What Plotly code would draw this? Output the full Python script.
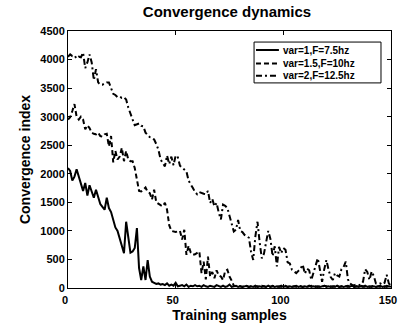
import plotly.graph_objects as go

samples = list(range(151))

s1_vals = [2100, 2050, 1880, 1950, 2080, 1950, 1850, 1700, 1840, 1620,
           1800, 1700, 1580, 1720, 1600, 1470, 1420, 1370, 1580, 1400,
           1330, 1180, 1060, 1000, 870, 720, 610, 1160, 900, 620,
           640, 700, 1050, 350, 140, 380, 140, 490, 200, 110,
           90, 70, 80, 60, 70, 50, 80, 40, 60, 40,
           90, 30, 40, 50, 30, 60, 20, 40, 30, 50,
           30, 40, 20, 50, 30, 20, 40, 30, 20, 50,
           30, 20, 40, 20, 30, 60, 20, 30, 40, 20,
           30, 20, 30, 40, 20, 30, 20, 40, 20, 30,
           20, 30, 20, 40, 20, 30, 20, 30, 20, 40,
           20, 30, 20, 30, 20, 30, 40, 20, 30, 20,
           30, 20, 40, 20, 30, 20, 30, 20, 30, 40,
           20, 30, 20, 30, 20, 40, 20, 30, 20, 30,
           20, 30, 40, 20, 30, 20, 30, 20, 40, 20,
           30, 20, 30, 20, 30, 40, 20, 30, 20, 30,
           20]

s2_vals = [2950, 2990, 3100, 3220, 3000, 2950, 3000, 2950, 2780, 2850,
           2800, 2720, 2700, 2690, 2720, 2660, 2650, 2690, 2700, 2480,
           2660, 2200, 2400, 2250, 2300, 2455, 2220, 2400, 2250, 2220,
           2220, 2100, 1900, 1700, 1690, 1720, 1760, 1680, 1660, 1550,
           1720, 1500, 1470, 1450, 1430, 1490, 1370, 1100, 1000, 990,
           980, 990, 1000, 850, 1020, 580, 740, 620, 580, 590,
           610, 640, 260, 460, 150, 550, 200, 280, 170, 310,
           220, 200, 140, 300, 320, 200, 130, 40, 30, 40,
           30, 20, 40, 30, 20, 30, 40, 20, 30, 20,
           40, 30, 20, 30, 20, 40, 30, 20, 30, 20,
           30, 40, 20, 30, 20, 30, 20, 40, 30, 20,
           30, 20, 30, 40, 20, 30, 20, 30, 20, 40,
           30, 20, 30, 20, 40, 30, 20, 30, 20, 30,
           40, 20, 30, 20, 30, 20, 40, 30, 20, 30,
           20, 30, 40, 20, 30, 20, 30, 20, 40, 30,
           20]

s3_vals = [4050, 4090, 4060, 4070, 4020, 4050, 4040, 4120, 3850, 3950,
           4090, 3950, 3640, 3830, 3600, 3560, 3560, 3580, 3600, 3600,
           3500, 3400, 3380, 3340, 3350, 3330, 3340, 3300, 3160, 3070,
           2950, 2850, 2870, 2880, 2840, 2830, 2720, 2670, 2640, 2630,
           2600, 2520, 2420, 2250, 2180, 2130, 2320, 2170, 2300, 2150,
           2320, 2290, 2140, 2110, 2080, 2040, 1880, 1800, 1750, 1680,
           1640, 1680, 1660, 1650, 1640, 1700, 1490, 1560, 1430, 1490,
           1320, 1200, 1460, 1440, 1400, 1250, 1100, 990, 1020, 1190,
           1000, 980, 930, 910, 880, 640, 490, 900, 1160, 800,
           520, 600, 780, 1000, 860, 560, 730, 380, 720, 610,
           700, 670, 450, 430, 320, 290, 260, 300, 340, 410,
           250, 340, 310, 140, 260, 400, 520, 320, 110, 330,
           490, 320, 190, 140, 260, 220, 200, 330, 370, 460,
           150, 80, 50, 50, 60, 50, 60, 110, 330, 280,
           140, 290, 210, 80, 70, 80, 60, 90, 230, 80,
           40]

series_names = ["var=1,F=7.5hz", "var=1.5,F=10hz", "var=2,F=12.5hz"]
series_vals = [s1_vals, s2_vals, s3_vals]
dashes = ["solid", "5px,3px", "6px,3px,2px,3px"]

x_ticks = [0, 50, 100, 150]
y_ticks = list(range(0, 4501, 500))

FONT = "Liberation Sans, Arial, Helvetica, sans-serif"

fig = go.Figure()
for name, vals, d in zip(series_names, series_vals, dashes):
    fig.add_trace(go.Scatter(
        x=samples, y=vals, mode="lines", name=name, showlegend=False,
        line=dict(color="black", width=2, dash=d),
    ))

# Manual legend (compact, like the original)
leg_x0, leg_x1, leg_y0, leg_y1 = 0.576, 0.969, 0.798, 0.957
row_y = [0.926, 0.874, 0.826]
fig.add_shape(type="rect", xref="paper", yref="paper",
              x0=leg_x0, x1=leg_x1, y0=leg_y0, y1=leg_y1,
              line=dict(color="black", width=1), fillcolor="white", layer="above")
for name, d, ry in zip(series_names, dashes, row_y):
    fig.add_shape(type="line", xref="paper", yref="paper",
                  x0=0.582, x1=0.653, y0=ry, y1=ry, layer="above",
                  line=dict(color="black", width=2, dash=d))
    fig.add_annotation(xref="paper", yref="paper", x=0.659, y=ry,
                       xanchor="left", yanchor="middle", showarrow=False,
                       text="<b>%s</b>" % name,
                       font=dict(family=FONT, size=10, color="black"))

axis_common = dict(
    showline=True, linecolor="black", linewidth=1, mirror="ticks",
    ticks="inside", ticklen=4, tickcolor="black", showgrid=False,
    zeroline=False, automargin=False,
    tickfont=dict(family=FONT, size=11, color="black", weight="bold"),
)

fig.update_layout(
    width=399, height=323,
    margin=dict(l=68, r=8, t=31, b=35),
    paper_bgcolor="white", plot_bgcolor="white",
    font=dict(family=FONT, color="black"),
    title=dict(text="<b>Convergence dynamics</b>", x=0.569, xanchor="center",
               y=0.963, yanchor="middle",
               font=dict(family=FONT, size=15, color="black")),
    xaxis=dict(range=[0, 150], tickvals=x_ticks,
               ticklabelshift=-3, ticklabelstandoff=2,
               title=dict(text="<b>Training samples</b>", standoff=5,
                          font=dict(family=FONT, size=14, color="black")),
               **axis_common),
    yaxis=dict(range=[0, 4500], tickvals=y_ticks,
               title=dict(text="<b>Convergence index</b>", standoff=6,
                          font=dict(family=FONT, size=14, color="black")),
               **axis_common),
    showlegend=False,
)

fig.write_html("out.html", config={"displayModeBar": False},
               post_script="document.body.style.margin='0';")
